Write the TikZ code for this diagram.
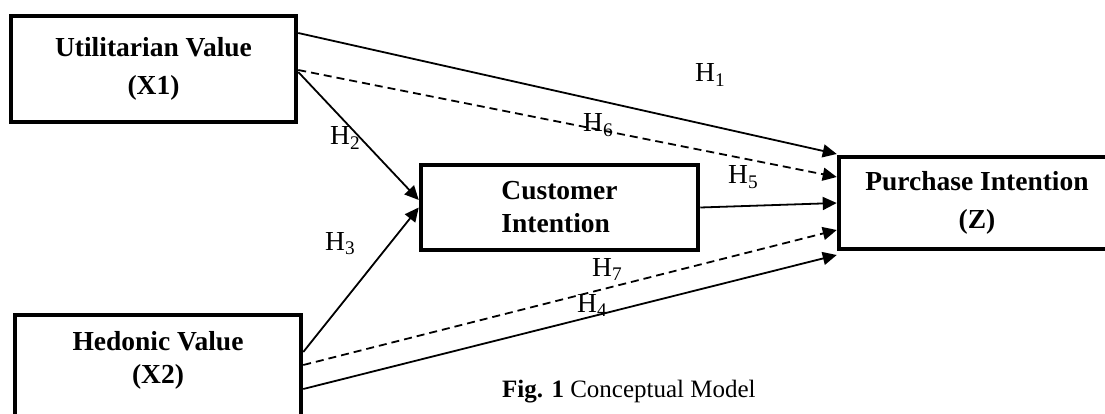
\documentclass[tikz,border=0pt]{standalone}
\usepackage{fontspec}
\setmainfont{Liberation Serif}
\usetikzlibrary{arrows.meta}

\begin{document}
\begin{tikzpicture}[x=1pt, y=-1pt,
    varbox/.style={draw, line width=4.5pt, align=center, font=\bfseries\fontsize{27.5}{38}\selectfont},
    hlink/.style={line width=1.8pt, -{Triangle[length=14pt, width=13pt]}},
    hdash/.style={hlink, dash pattern=on 8pt off 5pt},
    hyp/.style={anchor=base west, inner sep=0pt, font=\fontsize{27.5}{32}\selectfont}]
    \useasboundingbox (0,0) rectangle (1105,414);
    \clip (0,0) rectangle (1105,414);

    % constructs
    \node[varbox, minimum width=285pt, minimum height=106pt] (util) at (153.5,69) {Utilitarian Value\\(X1)};
    \node[varbox, minimum width=277pt, minimum height=85pt, align=left,
          font=\bfseries\fontsize{27.5}{33}\selectfont] (cust) at (559.5,207.5) {Customer\\Intention};
    \node[varbox, minimum width=276pt, minimum height=92pt] (purch) at (977,203) {Purchase Intention\\(Z)};
    \node[varbox, minimum width=286pt, minimum height=106pt,
          font=\bfseries\fontsize{27.5}{33}\selectfont] (hed) at (158,368) {Hedonic Value\\(X2)\rule[-22pt]{0pt}{22pt}};

    % hypotheses
    \draw[hlink] ([yshift=36pt]util.east) -- ([yshift=49pt]purch.west);
    \draw[hdash] ([yshift=-1pt]util.east) -- ([yshift=26pt]purch.west);
    \draw[hlink] ([yshift=-3pt]util.east) -- ([yshift=7.5pt]cust.west);
    \draw[hlink] ([yshift=16pt]hed.east) -- (cust.west);
    \draw[hdash] ([yshift=3pt]hed.east) -- ([yshift=-27pt]purch.west);
    \draw[hlink] ([yshift=-21pt]hed.east) -- ([yshift=-52pt]purch.west);
    \draw[hlink] (cust.east) -- (purch.west);

    \node[hyp] (h1) at (695,82) {H\textsubscript{1}};
    \node[hyp] (h2) at (330,145) {H\textsubscript{2}};
    \node[hyp] (h3) at (325,250) {H\textsubscript{3}};
    \node[hyp] (h4) at (577,312) {H\textsubscript{4}};
    \node[hyp] (h5) at (728,184) {H\textsubscript{5}};
    \node[hyp] (h6) at (583,132) {H\textsubscript{6}};
    \node[hyp] (h7) at (592,276) {H\textsubscript{7}};

    \node[anchor=base west, inner sep=0pt, font=\fontsize{25}{30}\selectfont] (caption) at (502,397) {\textbf{Fig. 1} Conceptual Model};
\end{tikzpicture}
\end{document}
